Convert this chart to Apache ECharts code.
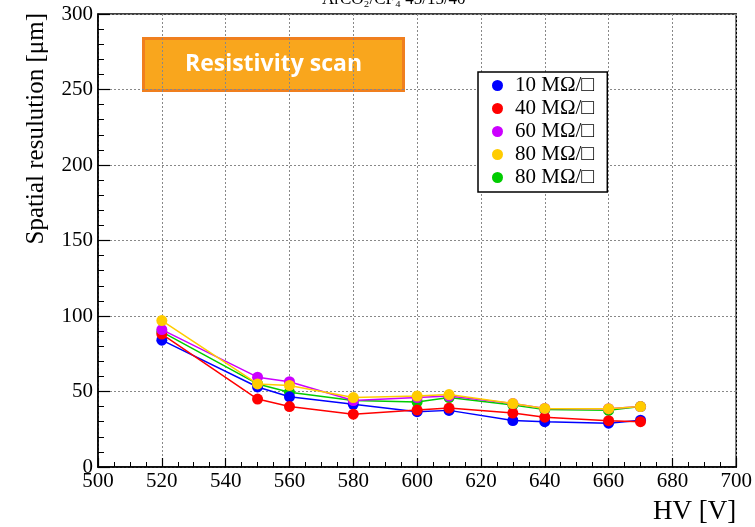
<!DOCTYPE html>
<html>
<head>
<meta charset="utf-8">
<script src="https://cdn.jsdelivr.net/npm/echarts@6/dist/echarts.min.js"></script>
<style>
  html, body { margin: 0; padding: 0; background: #fff; }
  #chart { width: 755px; height: 527px; }
</style>
</head>
<body>
<div id="chart"></div>
<script>
// HV scan points, in volts
const hv = [520, 550, 560, 580, 600, 610, 630, 640, 660, 670];

// Spatial resolution in µm for each surface resistivity
const res10 = [84, 53, 46.5, 41.5, 36.6, 37.5, 30.8, 30, 29, 31];
const res40 = [88, 45, 40, 35, 37.7, 39, 35.7, 33, 30.7, 30];
const res60 = [91, 59.5, 56.5, 44, 46, 47, 42, 38.8, 38.6, 40];
const res80a = [97, 55, 54, 46, 47, 48, 42, 38.8, 38.6, 40];
const res80b = [89.5, 55, 49.5, 44, 43, 46, 41, 38, 37.5, 40];

const seriesNames = ['10 MΩ/□', '40 MΩ/□', '60 MΩ/□', '80 MΩ/□', '80 MΩ/□ '];
const seriesColors = ['#0000ff', '#ff0000', '#cc00ff', '#ffcc00', '#00cc00'];
const seriesData = [res10, res40, res60, res80a, res80b];

// Axis ranges and tick spacing
const xMin = 500, xMax = 700, xStep = 20;
const yMin = 0, yMax = 300, yStep = 50;

const serif = '"Liberation Serif", "DejaVu Serif", serif';

const chart = echarts.init(document.getElementById('chart'), null, { renderer: 'canvas' });

// stacking order of the curves, bottom first
const drawOrder = [4, 0, 1, 2, 3];

const series = drawOrder.map((i, k) => ({
  name: seriesNames[i],
  type: 'line',
  data: hv.map((x, j) => [x, seriesData[i][j]]),
  symbol: 'circle',
  symbolSize: 11,
  itemStyle: { color: seriesColors[i] },
  lineStyle: { color: seriesColors[i], width: 1.5 },
  emphasis: { disabled: true },
  z: 3 + k
}));

const option = {
  animation: false,
  backgroundColor: '#ffffff',
  grid: {
    left: 98, right: 17, top: 14, bottom: 60,
    show: true, borderColor: '#000', borderWidth: 1.5, backgroundColor: 'transparent'
  },
  legend: {
    data: seriesNames.map((n, i) => ({ name: n, itemStyle: { color: seriesColors[i] } })),
    orient: 'vertical',
    left: 478, top: 72,
    padding: [3, 8, 4, 14],
    itemGap: 2,
    icon: 'circle',
    itemWidth: 11, itemHeight: 11,
    backgroundColor: '#fff',
    borderColor: '#000',
    borderWidth: 1.5,
    textStyle: { fontFamily: serif, fontSize: 21, color: '#000', padding: [0, 0, 0, 7] },
    selectedMode: false
  },
  xAxis: {
    type: 'value',
    min: xMin, max: xMax, interval: xStep,
    name: 'HV [V]',
    nameLocation: 'end',
    nameGap: 0,
    nameTextStyle: {
      fontFamily: serif, fontSize: 27, color: '#000',
      align: 'right', verticalAlign: 'top', padding: [31, 0, 0, 0]
    },
    axisLine: { show: true, lineStyle: { color: '#000', width: 1.5 } },
    axisTick: { show: true, inside: true, length: 9, lineStyle: { color: '#000', width: 1.2 } },
    minorTick: { show: true, splitNumber: 4, length: 5, lineStyle: { color: '#000', width: 1 } },
    axisLabel: { fontFamily: serif, fontSize: 21, color: '#000', margin: 4 },
    splitLine: { show: true, lineStyle: { color: '#888', type: [2, 2], width: 1 } }
  },
  yAxis: {
    type: 'value',
    min: yMin, max: yMax, interval: yStep,
    axisLine: { show: true, lineStyle: { color: '#000', width: 1.5 } },
    axisTick: { show: true, inside: true, length: 12, lineStyle: { color: '#000', width: 1.2 } },
    minorTick: { show: true, splitNumber: 5, length: 6, lineStyle: { color: '#000', width: 1 } },
    axisLabel: { fontFamily: serif, fontSize: 21, color: '#000', margin: 5 },
    splitLine: { show: true, lineStyle: { color: '#888', type: [2, 2], width: 1 } }
  },
  graphic: [
    {
      type: 'text',
      left: 322,
      top: -9,
      style: { text: 'ArCO₂/CF₄ 45/15/40', fontFamily: serif, fontSize: 17, fill: '#000' },
      z: 10
    },
    {
      // y-axis title, right-aligned against the top of the axis
      type: 'text',
      x: 36, y: 13,
      rotation: Math.PI / 2,
      style: {
        text: 'Spatial resulution [μm]',
        fontFamily: serif, fontSize: 25, fill: '#000',
        align: 'right', verticalAlign: 'middle'
      },
      z: 10
    },
    {
      type: 'group',
      left: 142, top: 37,
      z: 20,
      children: [
        {
          type: 'rect',
          shape: { x: 0, y: 0, width: 260, height: 52 },
          style: { fill: '#f9a61d', stroke: '#f07f1e', lineWidth: 3 }
        },
        {
          type: 'text',
          x: 130, y: 26,
          style: {
            text: 'Resistivity scan',
            fontFamily: '"Open Sans", Lato, sans-serif',
            fontWeight: 'bold',
            fontSize: 23,
            fill: '#fff',
            align: 'center',
            verticalAlign: 'middle'
          }
        }
      ]
    }
  ],
  series: series
};

chart.setOption(option);
</script>
</body>
</html>
